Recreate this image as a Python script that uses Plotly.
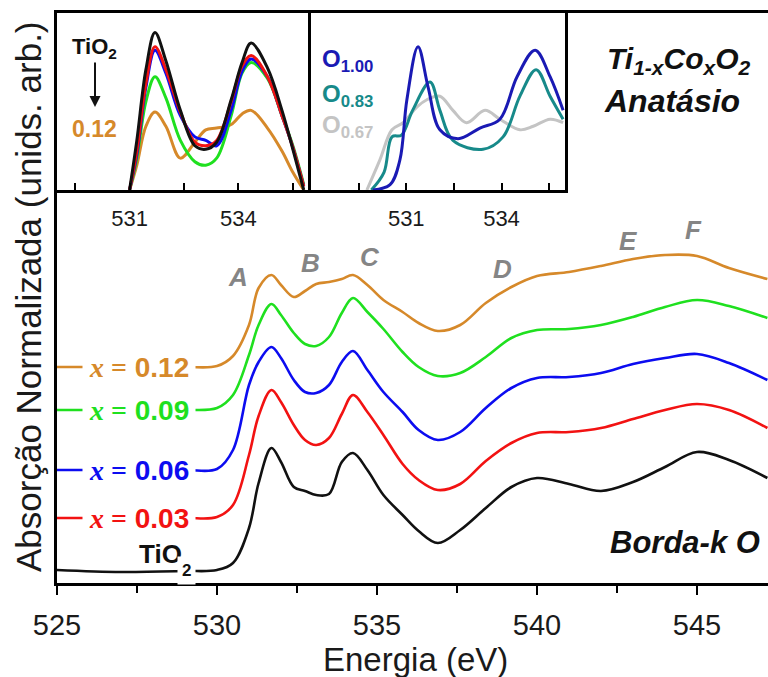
import plotly.graph_objects as go

# ---------------- main panel: O K-edge spectra (offset, arb. units) ----------------
energy = [525, 527, 529, 530, 530.5, 531, 531.3, 531.7, 532, 532.4, 532.75, 533.1,
          533.5, 533.9, 534.25, 534.7, 535.2, 535.8, 536.3, 536.9, 537.6, 538.4,
          539.2, 540, 541, 542, 543, 544, 545, 546, 547.2]

tio2 = [0.13, 0.11, 0.12, 0.13, 0.20, 0.55, 1.00, 1.35, 1.21, 0.96, 0.92, 0.88,
        0.89, 1.21, 1.30, 1.13, 0.88, 0.68, 0.52, 0.40, 0.53, 0.75, 0.96, 1.05,
        0.99, 0.92, 1.01, 1.16, 1.31, 1.23, 1.05]
x003 = [0.65, 0.65, 0.65, 0.66, 0.78, 1.28, 1.67, 1.93, 1.81, 1.58, 1.43, 1.38,
        1.45, 1.69, 1.88, 1.71, 1.48, 1.19, 1.03, 0.93, 0.99, 1.22, 1.40, 1.50,
        1.51, 1.55, 1.64, 1.73, 1.79, 1.73, 1.55]
x006 = [1.13, 1.13, 1.13, 1.14, 1.33, 1.98, 2.21, 2.36, 2.25, 2.03, 1.91, 1.90,
        1.98, 2.21, 2.32, 2.13, 1.91, 1.71, 1.53, 1.43, 1.51, 1.75, 1.95, 2.05,
        2.06, 2.10, 2.19, 2.25, 2.29, 2.20, 2.03]
x009 = [1.73, 1.73, 1.73, 1.75, 1.88, 2.28, 2.58, 2.79, 2.68, 2.50, 2.39, 2.37,
        2.46, 2.70, 2.85, 2.71, 2.54, 2.31, 2.16, 2.07, 2.10, 2.26, 2.45, 2.53,
        2.54, 2.58, 2.66, 2.76, 2.83, 2.77, 2.65]
x012 = [2.16, 2.16, 2.16, 2.17, 2.27, 2.58, 2.95, 3.08, 2.98, 2.86, 2.92, 2.99,
        3.01, 3.04, 3.08, 2.98, 2.83, 2.71, 2.60, 2.52, 2.58, 2.80, 2.96, 3.07,
        3.11, 3.17, 3.24, 3.28, 3.27, 3.15, 3.04]

series_labels = ["0.12", "0.09", "0.06", "0.03"]
feature_letters = ["A", "B", "C", "D", "E", "F"]
main_ticks = [525, 530, 535, 540, 545]

# ---------------- left inset: pre-edge region, Co series ----------------
inset_energy = [531.0, 531.2, 531.45, 531.7, 532.0, 532.4, 532.8, 533.1, 533.4,
                533.8, 534.1, 534.35, 534.8, 535.2, 535.5, 535.8]
ins_tio2 = [0, 0.28, 0.68, 0.89, 0.73, 0.45, 0.25, 0.23, 0.27, 0.51, 0.72, 0.83, 0.69, 0.45, 0.23, 0]
ins_x003 = [0, 0.22, 0.60, 0.81, 0.68, 0.44, 0.27, 0.25, 0.28, 0.50, 0.70, 0.76, 0.64, 0.42, 0.24, 0.02]
ins_x006 = [0, 0.20, 0.58, 0.79, 0.66, 0.42, 0.30, 0.28, 0.25, 0.45, 0.67, 0.74, 0.64, 0.42, 0.24, 0.02]
ins_x009 = [0, 0.18, 0.50, 0.64, 0.52, 0.28, 0.16, 0.14, 0.18, 0.42, 0.66, 0.72, 0.63, 0.42, 0.25, 0.03]
ins_x012 = [0, 0.14, 0.36, 0.44, 0.36, 0.18, 0.27, 0.34, 0.35, 0.37, 0.43, 0.45, 0.35, 0.22, 0.10, 0]

# ---------------- right inset: oxygen occupation series ----------------
o100_e = [529.95, 530.49, 530.8, 531.02, 531.37, 531.69, 532.06, 532.63, 533.32,
          533.95, 534.49, 535.06, 535.53, 535.94]
o100_v = [0, 0.03, 0.17, 0.51, 0.81, 0.58, 0.34, 0.29, 0.35, 0.40, 0.64, 0.79, 0.64, 0.45]
o083_e = [529.9, 530.3, 530.55, 530.85, 531.2, 531.75, 532.06, 532.47, 533.42,
          534.05, 534.58, 535.09, 535.53, 535.94]
o083_v = [0, 0.10, 0.30, 0.31, 0.45, 0.61, 0.45, 0.28, 0.23, 0.30, 0.53, 0.68, 0.53, 0.40]
o067_e = [529.76, 530.17, 530.55, 530.9, 531.34, 531.65, 532.06, 532.47, 532.9,
          533.48, 533.95, 534.58, 535.0, 535.53, 535.94]
o067_v = [0, 0.17, 0.34, 0.38, 0.47, 0.51, 0.53, 0.45, 0.38, 0.45, 0.40, 0.34, 0.36, 0.40, 0.38]
inset_ticks = [529.5, 531, 532.5, 534, 535.5]
inset_ticktext = ["", "531", "", "534", ""]

# ---------------- styling ----------------
C_BLACK = "#111111"
C_RED = "#f21212"
C_BLUE = "#0c0cf0"
C_GREEN = "#1fe01f"
C_ORANGE = "#d6892a"
C_NAVY = "#1a1ab4"
C_TEAL = "#178a8a"
C_LGRAY = "#c4c4c4"
C_LETTER = "#858585"
SANS = "Liberation Sans, Arial, sans-serif"
SMOOTH = 1.0

W, H = 768, 677
L, R, T, B = 57, 768, 13, 583          # plot area in pixels


def fx(p):
    return (p - L) / (R - L)


def fy(p):
    return (B - p) / (B - T)


fig = go.Figure()

main = [(tio2, C_BLACK), (x003, C_RED), (x006, C_BLUE), (x009, C_GREEN), (x012, C_ORANGE)]
for vals, col in main:
    fig.add_trace(go.Scatter(x=energy, y=vals, mode="lines",
                             line=dict(color=col, width=2.6, shape="spline", smoothing=SMOOTH),
                             xaxis="x", yaxis="y", showlegend=False, hoverinfo="skip"))

ins1 = [(ins_x012, C_ORANGE), (ins_x009, C_GREEN), (ins_x006, C_BLUE),
        (ins_x003, C_RED), (ins_tio2, C_BLACK)]
for vals, col in ins1:
    fig.add_trace(go.Scatter(x=inset_energy, y=vals, mode="lines",
                             line=dict(color=col, width=3, shape="spline", smoothing=SMOOTH),
                             xaxis="x2", yaxis="y2", showlegend=False, hoverinfo="skip"))

ins2 = [(o067_e, o067_v, C_LGRAY), (o083_e, o083_v, C_TEAL), (o100_e, o100_v, C_NAVY)]
for xs, vals, col in ins2:
    fig.add_trace(go.Scatter(x=xs, y=vals, mode="lines",
                             line=dict(color=col, width=3, shape="spline", smoothing=SMOOTH),
                             xaxis="x3", yaxis="y3", showlegend=False, hoverinfo="skip"))

ann = []

# series labels sitting on the flat pre-edge part of each curve
for lab, vals, col in [(series_labels[0], x012, C_ORANGE), (series_labels[1], x009, C_GREEN),
                       (series_labels[2], x006, C_BLUE), (series_labels[3], x003, C_RED)]:
    ann.append(dict(
        text="<span style='font-family:Liberation Serif'><b><i>x</i> =</b></span> <b>%s</b>" % lab,
        x=527.55, y=vals[0], xref="x", yref="y", showarrow=False,
        font=dict(family=SANS, size=28, color=col), bgcolor="white", borderpad=6,
        xanchor="center", yanchor="middle"))

ann.append(dict(text="<b>TiO</b>", x=fx(160), y=fy(554), xref="paper", yref="paper",
                showarrow=False, font=dict(family=SANS, size=26, color=C_BLACK),
                xanchor="center", yanchor="middle"))
ann.append(dict(text="<b>2</b>", x=fx(186), y=tio2[0], xref="paper", yref="y",
                showarrow=False, font=dict(family=SANS, size=17, color=C_BLACK),
                bgcolor="white", borderpad=4, xanchor="center", yanchor="middle"))

# spectral feature letters
letter_pos = [(238, 277), (310, 263), (370, 257), (502, 269), (628, 241), (693, 230)]
for letter, (px_, py_) in zip(feature_letters, letter_pos):
    ann.append(dict(text="<b><i>%s</i></b>" % letter, x=fx(px_), y=fy(py_),
                    xref="paper", yref="paper", showarrow=False,
                    font=dict(family=SANS, size=26, color=C_LETTER),
                    xanchor="center", yanchor="middle"))

# compound / phase / edge text
ann.append(dict(text="<b><i>Ti<sub>1-x</sub>Co<sub>x</sub>O<sub>2</sub></i></b>",
                x=fx(605), y=fy(60), xref="paper", yref="paper", showarrow=False,
                font=dict(family=SANS, size=30, color=C_BLACK), xanchor="left", yanchor="middle"))
ann.append(dict(text="<b><i>Anatásio</i></b>", x=fx(602), y=fy(101), xref="paper", yref="paper",
                showarrow=False, font=dict(family=SANS, size=32, color=C_BLACK),
                xanchor="left", yanchor="middle"))
ann.append(dict(text="<b><i>Borda-k O</i></b>", x=fx(608), y=fy(542), xref="paper", yref="paper",
                showarrow=False, font=dict(family=SANS, size=31, color=C_BLACK),
                xanchor="left", yanchor="middle"))

# left inset legend
ann.append(dict(text="<b>TiO<sub>2</sub></b>", x=fx(70), y=fy(48), xref="paper", yref="paper",
                showarrow=False, font=dict(family=SANS, size=22, color=C_BLACK),
                xanchor="left", yanchor="middle"))
ann.append(dict(text="", x=fx(95), y=fy(107), xref="paper", yref="paper",
                ax=0, ay=-46, showarrow=True, arrowhead=2, arrowsize=1.1, arrowwidth=2,
                arrowcolor=C_BLACK))
ann.append(dict(text="<b>0.12</b>", x=fx(70), y=fy(129), xref="paper", yref="paper",
                showarrow=False, font=dict(family=SANS, size=23, color=C_ORANGE),
                xanchor="left", yanchor="middle"))

# right inset legend
for lab, col, yp in [("1.00", C_NAVY, 60), ("0.83", C_TEAL, 95), ("0.67", C_LGRAY, 127)]:
    ann.append(dict(text="<b>O<sub>%s</sub></b>" % lab, x=fx(320), y=fy(yp),
                    xref="paper", yref="paper", showarrow=False,
                    font=dict(family=SANS, size=24, color=col),
                    xanchor="left", yanchor="middle"))

# axis titles
ann.append(dict(text="Absorção Normalizada (unids. arb.)", x=fx(28), y=fy(297),
                xref="paper", yref="paper", showarrow=False, textangle=-90,
                font=dict(family=SANS, size=35, color="#1a1a1a"),
                xanchor="center", yanchor="middle"))
ann.append(dict(text="Energia (eV)", x=fx(415), y=fy(659), xref="paper", yref="paper",
                showarrow=False, font=dict(family=SANS, size=33, color="#1a1a1a"),
                xanchor="center", yanchor="middle"))

axis_common = dict(showgrid=False, zeroline=False, linecolor="black")

fig.update_layout(
    width=W, height=H, autosize=False,
    margin=dict(l=L, r=W - R, t=T, b=H - B, pad=0),
    paper_bgcolor="white", plot_bgcolor="white",
    showlegend=False,
    xaxis=dict(domain=[0, 1], range=[525, 525 + (R - L) / 32.0], anchor="y",
               showline=True, linewidth=2.5, mirror=True,
               tickmode="array", tickvals=main_ticks,
               ticks="outside", ticklen=9, tickwidth=2, tickcolor="black",
               ticklabelstandoff=5,
               minor=dict(ticks="outside", ticklen=7, tickwidth=2, tickcolor="black",
                          tick0=527.5, dtick=5),
               tickfont=dict(family=SANS, size=29, color="#1a1a1a"), **axis_common),
    yaxis=dict(domain=[0, 1], range=[0, 5.70], anchor="x",
               showline=True, linewidth=2.5, showticklabels=False, ticks="",
               **axis_common),
    xaxis2=dict(domain=[0, (311 - L) / (R - L)], range=[529, 536], anchor="y2",
                showline=True, linewidth=2.5, mirror=True,
                tickmode="array", tickvals=inset_ticks, ticktext=inset_ticktext,
                ticks="inside", ticklen=7, tickwidth=2, tickcolor="black",
                ticklabelstandoff=7,
                tickfont=dict(family=SANS, size=22, color="#1a1a1a"), **axis_common),
    yaxis2=dict(domain=[fy(190), 1], range=[0, 1], anchor="x2",
                showline=True, linewidth=2.5, mirror=True,
                showticklabels=False, ticks="", **axis_common),
    xaxis3=dict(domain=[(311 - L) / (R - L), (565 - L) / (R - L)], range=[528, 536], anchor="y3",
                showline=True, linewidth=2.5, mirror=True,
                tickmode="array", tickvals=inset_ticks, ticktext=inset_ticktext,
                ticks="inside", ticklen=7, tickwidth=2, tickcolor="black",
                ticklabelstandoff=7,
                tickfont=dict(family=SANS, size=22, color="#1a1a1a"), **axis_common),
    yaxis3=dict(domain=[fy(190), 1], range=[0, 1], anchor="x3",
                showline=True, linewidth=2.5, mirror=True,
                showticklabels=False, ticks="", **axis_common),
    annotations=ann,
)

fig.write_html("out.html")
